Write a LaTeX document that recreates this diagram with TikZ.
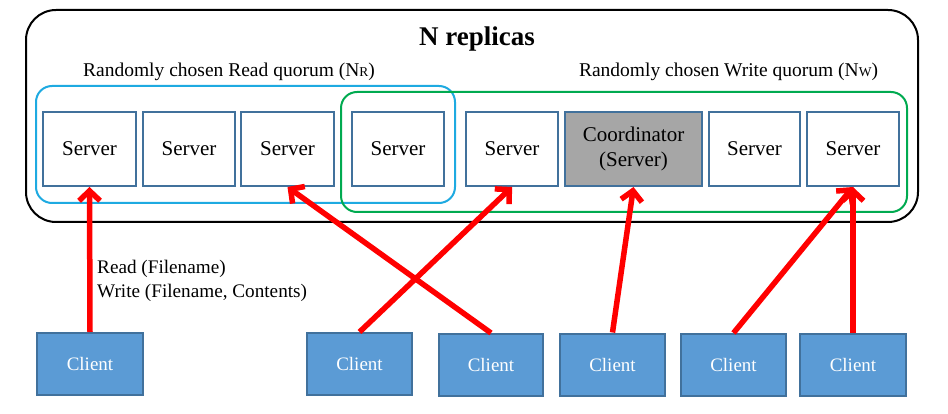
\documentclass[tikz,border=0pt]{standalone}
\usepackage{fontspec}
\setmainfont{Liberation Serif}
\usetikzlibrary{arrows.meta}
\definecolor{srvborder}{RGB}{65,113,156}
\definecolor{clientfill}{RGB}{91,155,213}
\definecolor{coordfill}{RGB}{166,166,166}
\definecolor{readq}{RGB}{30,170,225}
\definecolor{writeq}{RGB}{0,170,80}
\definecolor{arrowred}{RGB}{255,0,0}
\tikzset{
  serverbox/.style={draw=srvborder, line width=2pt, inner sep=0pt, minimum height=74pt, font=\fontsize{21}{25}\selectfont, align=center},
  clientbox/.style={draw=srvborder, line width=2pt, fill=clientfill, inner sep=0pt, minimum height=62pt, text=white, font=\fontsize{19}{21}\selectfont},
  reqarrow/.style={draw=arrowred, line width=5.5pt, -{Straight Barb[length=10pt,width=21pt]}},
  quorumlabel/.style={font=\fontsize{19.5}{21}\selectfont, inner sep=0pt},
}
\begin{document}
\begin{tikzpicture}[x=1pt,y=-1pt]
\useasboundingbox (0,0) rectangle (948,414);
% outer box
\draw[line width=2pt, rounded corners=30pt] (26,10) rectangle (918,222);
\node[font=\fontsize{27}{29}\selectfont\bfseries, inner sep=0pt] (title) at (477,39) {N replicas};
% quorums
\draw[readq, line width=2pt, rounded corners=16pt] (36,86) rectangle (455,203);
\draw[writeq, line width=2pt, rounded corners=16pt] (341,92) rectangle (907,212);
\node[quorumlabel] (rlabel) at (229,71.5) {Randomly chosen Read quorum (N{\fontsize{13.5}{14}\selectfont R})};
\node[quorumlabel] (wlabel) at (728.5,71.5) {Randomly chosen Write quorum (N{\fontsize{13.5}{14}\selectfont W})};
% servers
\node[serverbox, minimum width=93pt] (s1) at (89.5,149) {Server};
\node[serverbox, minimum width=92pt] (s2) at (189,149) {Server};
\node[serverbox, minimum width=93pt] (s3) at (287.5,149) {Server};
\node[serverbox, minimum width=92pt] (s4) at (398,149) {Server};
\node[serverbox, minimum width=92pt] (s5) at (512,149) {Server};
\node[serverbox, minimum width=137pt, fill=coordfill] (coord) at (633.5,149) {Coordinator\\(Server)};
\node[serverbox, minimum width=91pt] (s7) at (754.5,149) {Server};
\node[serverbox, minimum width=92pt] (s8) at (853,149) {Server};
% clients
\node[clientbox, minimum width=106pt] (c1) at (90,364) {Client};
\node[clientbox, minimum width=105pt] (c2) at (359.5,364) {Client};
\node[clientbox, minimum width=104pt] (c3) at (491,365) {Client};
\node[clientbox, minimum width=105pt] (c4) at (612.5,364.5) {Client};
\node[clientbox, minimum width=105pt] (c5) at (733.5,365) {Client};
\node[clientbox, minimum width=106pt] (c6) at (853,365) {Client};
% arrows
\draw[reqarrow] (c1.north) -- (s1.south);
\draw[reqarrow] (c3.north) -- (s3.south);
\draw[reqarrow] (c2.north) -- (s5.south);
\draw[reqarrow] (c4.north) -- (coord.south);
\draw[reqarrow] (c5.north) -- (s8.south);
\draw[reqarrow] (c6.north) -- (s8.south);
% operation label
\node[anchor=west, align=left, inner sep=0pt, font=\fontsize{19.2}{24}\selectfont] (ops) at (97,281) {Read (Filename)\\Write (Filename, Contents)};
\end{tikzpicture}
\end{document}
